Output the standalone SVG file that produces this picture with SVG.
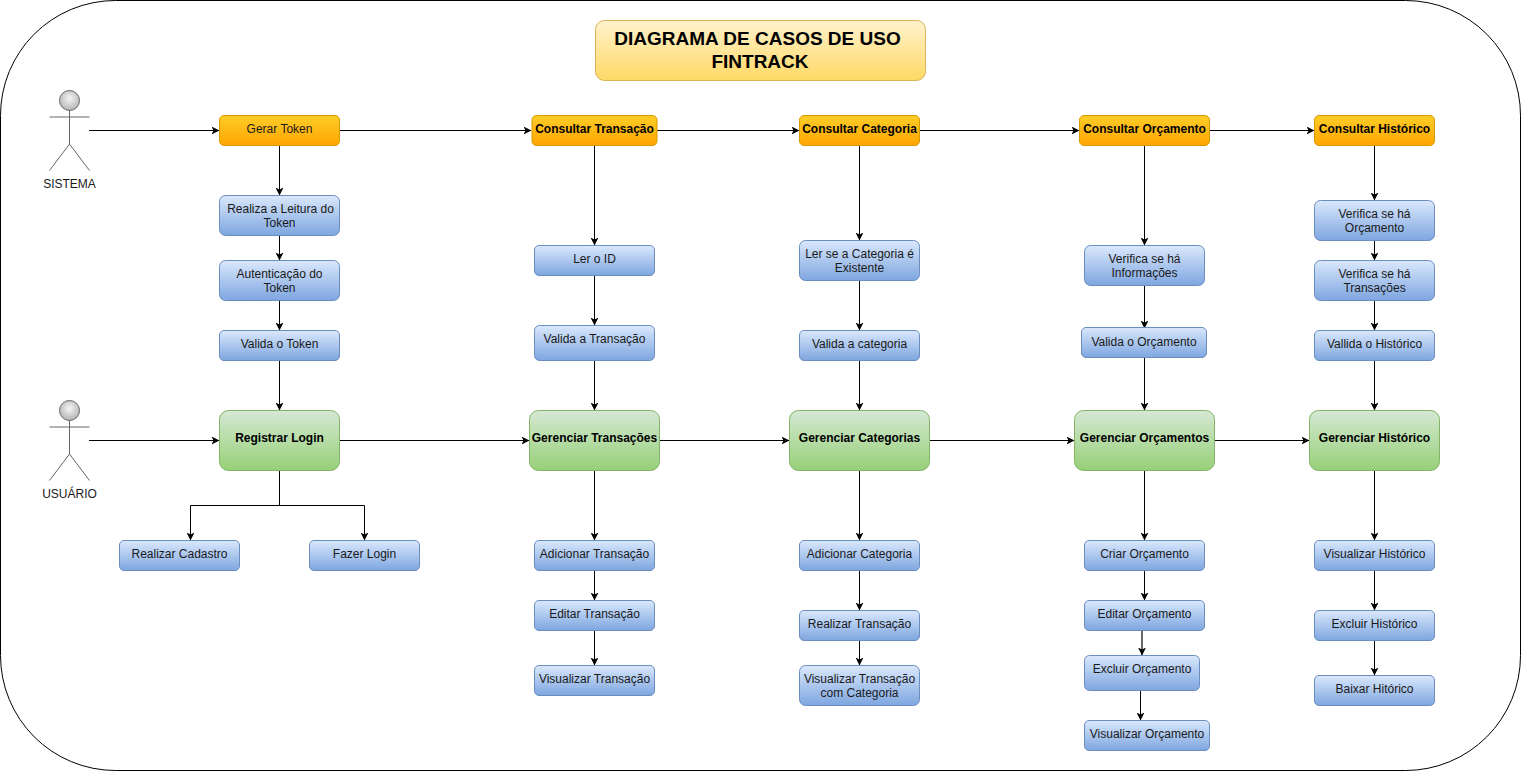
<svg xmlns="http://www.w3.org/2000/svg" width="1521" height="781" viewBox="0 0 1521 781">
<style>
text{font-family:"Liberation Sans",Arial,sans-serif;font-size:12px;fill:#1a1a1a;text-anchor:middle}
.b{font-weight:bold;fill:#000}
.o{fill:url(#go);stroke:#d79b00}
.u{fill:url(#gb);stroke:#6c8ebf}
.g{fill:url(#gg);stroke:#82b366}
.c path{fill:none;stroke:#000;stroke-width:1;marker-end:url(#a)}
.s{fill:none;stroke:#666;stroke-width:1}
</style>
<defs>
<linearGradient id="go" x1="0" y1="0" x2="0" y2="1"><stop offset="0" stop-color="#ffcd28"/><stop offset="1" stop-color="#ffa500"/></linearGradient>
<linearGradient id="gb" x1="0" y1="0" x2="0" y2="1"><stop offset="0" stop-color="#dae8fc"/><stop offset="1" stop-color="#7ea6e0"/></linearGradient>
<linearGradient id="gg" x1="0" y1="0" x2="0" y2="1"><stop offset="0" stop-color="#d5e8d4"/><stop offset="1" stop-color="#97d077"/></linearGradient>
<linearGradient id="gt" x1="0" y1="0" x2="0" y2="1"><stop offset="0" stop-color="#fff2cc"/><stop offset="1" stop-color="#ffd966"/></linearGradient>
<radialGradient id="gh" cx="0.5" cy="0.4" r="0.6"><stop offset="0" stop-color="#f5f5f5"/><stop offset="1" stop-color="#b3b3b3"/></radialGradient>
<marker id="a" viewBox="0 0 8 8" refX="7.5" refY="4" markerWidth="8" markerHeight="8" markerUnits="userSpaceOnUse" orient="auto"><path d="M0 0L8 4L0 8L2 4Z" fill="#000"/></marker>
</defs>
<rect id="frame" x="0.5" y="0.5" width="1520" height="770" rx="115" ry="115" fill="#fff" stroke="#000"/>
<g id="title"><rect x="595.5" y="20.500" width="330" height="60" rx="9" fill="url(#gt)" stroke="#d6b656"/><text class="b" x="757.500" y="45" style="font-size:19px">DIAGRAMA DE CASOS DE USO</text><text class="b" x="760" y="68" style="font-size:19px">FINTRACK</text></g>
<g id="connectors" class="c">
<path d="M89 130.500H219"/><path d="M340 130.500H531"/><path d="M657 130.500H799"/><path d="M919 130.500H1079"/><path d="M1209 130.500H1314"/>
<path d="M279.500 145V195"/><path d="M279.500 235V260"/><path d="M279.500 300V330"/><path d="M279.500 360V410"/>
<path d="M594.500 145V245"/><path d="M594.500 275V325"/><path d="M594.500 360V410"/>
<path d="M859.500 145V240"/><path d="M859.500 280V330"/><path d="M859.500 360V410"/>
<path d="M1144.500 145V245"/><path d="M1144.500 285V328"/><path d="M1144.500 357V410"/>
<path d="M1374.500 145V200"/><path d="M1374.500 240V260"/><path d="M1374.500 300V330"/><path d="M1374.500 360V410"/>
<path d="M89 440.500H219"/><path d="M340 440.500H529"/><path d="M659 440.500H789"/><path d="M929 440.500H1074"/><path d="M1214 440.500H1309"/>
<path d="M279.500 470V505.500H190.500V540"/><path d="M279.500 470V505.500H364.500V540"/>
<path d="M594.500 470V540"/><path d="M594.500 570V600"/><path d="M594.500 630V665"/>
<path d="M859.500 470V540"/><path d="M859.500 570V610"/><path d="M859.500 640V665"/>
<path d="M1144.500 470V540"/><path d="M1144.500 570V600"/><path d="M1142 630V655" style="stroke:#666;stroke-width:2"/><path d="M1140.500 690V720"/>
<path d="M1374.500 470V540"/><path d="M1374.500 570V610"/><path d="M1374.500 640V675"/>
</g>
<g id="actor-sistema"><circle class="s" cx="69.500" cy="100.500" r="10" style="fill:url(#gh)"/><path class="s" d="M69.500 110.500V144M49.500 117H89.500M69.500 144L49.500 170.500M69.500 144L89.500 170.500"/><text x="69.500" y="188">SISTEMA</text></g>
<g id="actor-usuario"><circle class="s" cx="69.500" cy="410.500" r="10" style="fill:url(#gh)"/><path class="s" d="M69.500 420.500V454M49.500 427H89.500M69.500 454L49.500 480.500M69.500 454L89.500 480.500"/><text x="69.500" y="498">USUÁRIO</text></g>
<g id="gerar-token"><rect class="o" x="219.500" y="115.500" width="120" height="30" rx="4.500"/><text x="279.500" y="133">Gerar Token</text></g>
<g id="consultar-transacao"><rect class="o" x="532" y="115.500" width="125" height="30" rx="4.500"/><text class="b" x="594.500" y="133">Consultar Transação</text></g>
<g id="consultar-categoria"><rect class="o" x="799.500" y="115.500" width="120" height="30" rx="4.500"/><text class="b" x="859.500" y="133">Consultar Categoria</text></g>
<g id="consultar-orcamento"><rect class="o" x="1079.500" y="115.500" width="130" height="30" rx="4.500"/><text class="b" x="1144.500" y="133">Consultar Orçamento</text></g>
<g id="consultar-historico"><rect class="o" x="1314.500" y="115.500" width="120" height="30" rx="4.500"/><text class="b" x="1374.500" y="133">Consultar Histórico</text></g>
<g id="leitura-token"><rect class="u" x="219.500" y="195.500" width="120" height="40" rx="6"/><text x="280.500" y="213">Realiza a Leitura do</text><text x="279.500" y="227">Token</text></g>
<g id="autenticacao-token"><rect class="u" x="219.500" y="260.500" width="120" height="40" rx="6"/><text x="279.500" y="278">Autenticação do</text><text x="279.500" y="292">Token</text></g>
<g id="valida-token"><rect class="u" x="219.500" y="330.500" width="120" height="30" rx="4.500"/><text x="279.500" y="348">Valida o Token</text></g>
<g id="ler-id"><rect class="u" x="534.500" y="245.500" width="120" height="30" rx="4.500"/><text x="594.500" y="263">Ler o ID</text></g>
<g id="valida-transacao"><rect class="u" x="534.500" y="325.500" width="120" height="35" rx="5"/><text x="594.500" y="343">Valida a Transação</text></g>
<g id="ler-categoria"><rect class="u" x="799.500" y="240.500" width="120" height="40" rx="6"/><text x="859.500" y="258">Ler se a Categoria é</text><text x="859.500" y="272">Existente</text></g>
<g id="valida-categoria"><rect class="u" x="799.500" y="330.500" width="120" height="30" rx="4.500"/><text x="859.500" y="348">Valida a categoria</text></g>
<g id="verifica-informacoes"><rect class="u" x="1084.500" y="245.500" width="120" height="40" rx="6"/><text x="1144.500" y="263">Verifica se há</text><text x="1144.500" y="277">Informações</text></g>
<g id="valida-orcamento"><rect class="u" x="1081.500" y="327.500" width="125" height="30" rx="4.500"/><text x="1144" y="346">Valida o Orçamento</text></g>
<g id="verifica-orcamento"><rect class="u" x="1314.500" y="200.500" width="120" height="40" rx="6"/><text x="1374.500" y="218">Verifica se há</text><text x="1374.500" y="232">Orçamento</text></g>
<g id="verifica-transacoes"><rect class="u" x="1314.500" y="260.500" width="120" height="40" rx="6"/><text x="1374.500" y="278">Verifica se há</text><text x="1374.500" y="292">Transações</text></g>
<g id="valida-historico"><rect class="u" x="1314.500" y="330.500" width="120" height="30" rx="4.500"/><text x="1374.500" y="348">Vallida o Histórico</text></g>
<g id="registrar-login"><rect class="g" x="219.500" y="410.500" width="120" height="60" rx="9"/><text class="b" x="279.500" y="442">Registrar Login</text></g>
<g id="gerenciar-transacoes"><rect class="g" x="529.500" y="410.500" width="130" height="60" rx="9"/><text class="b" x="594.500" y="442">Gerenciar Transações</text></g>
<g id="gerenciar-categorias"><rect class="g" x="789.500" y="410.500" width="140" height="60" rx="9"/><text class="b" x="859.500" y="442">Gerenciar Categorias</text></g>
<g id="gerenciar-orcamentos"><rect class="g" x="1074.500" y="410.500" width="140" height="60" rx="9"/><text class="b" x="1144.500" y="442">Gerenciar Orçamentos</text></g>
<g id="gerenciar-historico"><rect class="g" x="1309.500" y="410.500" width="130" height="60" rx="9"/><text class="b" x="1374.500" y="442">Gerenciar Histórico</text></g>
<g id="realizar-cadastro"><rect class="u" x="119.500" y="540.500" width="120" height="30" rx="4.500"/><text x="179.500" y="558">Realizar Cadastro</text></g>
<g id="fazer-login"><rect class="u" x="309.500" y="540.500" width="110" height="30" rx="4.500"/><text x="364.500" y="558">Fazer Login</text></g>
<g id="adicionar-transacao"><rect class="u" x="534.500" y="540.500" width="120" height="30" rx="4.500"/><text x="594.500" y="558">Adicionar Transação</text></g>
<g id="editar-transacao"><rect class="u" x="534.500" y="600.500" width="120" height="30" rx="4.500"/><text x="594.500" y="618">Editar Transação</text></g>
<g id="visualizar-transacao"><rect class="u" x="534.500" y="665.500" width="120" height="30" rx="4.500"/><text x="594.500" y="683">Visualizar Transação</text></g>
<g id="adicionar-categoria"><rect class="u" x="799.500" y="540.500" width="120" height="30" rx="4.500"/><text x="859.500" y="558">Adicionar Categoria</text></g>
<g id="realizar-transacao"><rect class="u" x="799.500" y="610.500" width="120" height="30" rx="4.500"/><text x="859.500" y="628">Realizar Transação</text></g>
<g id="visualizar-transacao-categoria"><rect class="u" x="799.500" y="665.500" width="120" height="40" rx="6"/><text x="859.500" y="683">Visualizar Transação</text><text x="859.500" y="697">com Categoria</text></g>
<g id="criar-orcamento"><rect class="u" x="1084.500" y="540.500" width="120" height="30" rx="4.500"/><text x="1144.500" y="558">Criar Orçamento</text></g>
<g id="editar-orcamento"><rect class="u" x="1084.500" y="600.500" width="120" height="30" rx="4.500"/><text x="1144.500" y="618">Editar Orçamento</text></g>
<g id="excluir-orcamento"><rect class="u" x="1084.500" y="655.500" width="115" height="35" rx="5"/><text x="1142" y="673">Excluir Orçamento</text></g>
<g id="visualizar-orcamento"><rect class="u" x="1084.500" y="720.500" width="125" height="30" rx="4.500"/><text x="1147" y="738">Visualizar Orçamento</text></g>
<g id="visualizar-historico"><rect class="u" x="1314.500" y="540.500" width="120" height="30" rx="4.500"/><text x="1374.500" y="558">Visualizar Histórico</text></g>
<g id="excluir-historico"><rect class="u" x="1314.500" y="610.500" width="120" height="30" rx="4.500"/><text x="1374.500" y="628">Excluir Histórico</text></g>
<g id="baixar-historico"><rect class="u" x="1314.500" y="675.500" width="120" height="30" rx="4.500"/><text x="1374.500" y="693">Baixar Hitórico</text></g>
</svg>
